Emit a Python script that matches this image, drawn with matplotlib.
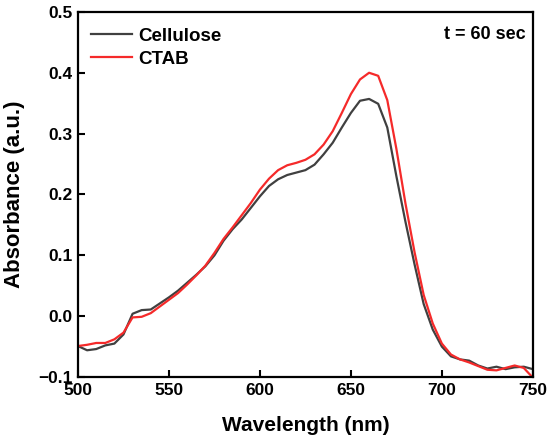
import matplotlib
matplotlib.use("Agg")
import matplotlib.pyplot as plt

wavelength = list(range(500, 755, 5))

cellulose = [-0.049, -0.056, -0.054, -0.048, -0.045, -0.030, 0.004, 0.010, 0.011, 0.021,
             0.031, 0.042, 0.055, 0.068, 0.082, 0.100, 0.124, 0.143, 0.159, 0.178,
             0.197, 0.214, 0.225, 0.232, 0.236, 0.240, 0.249, 0.266, 0.285, 0.310,
             0.334, 0.354, 0.357, 0.349, 0.310, 0.230, 0.155, 0.085, 0.020, -0.022,
             -0.050, -0.066, -0.071, -0.073, -0.081, -0.086, -0.083, -0.087, -0.084, -0.083,
             -0.087]

ctab = [-0.049, -0.047, -0.044, -0.044, -0.038, -0.027, -0.002, -0.001, 0.005, 0.016,
        0.027, 0.038, 0.052, 0.067, 0.083, 0.104, 0.127, 0.146, 0.166, 0.186,
        0.208, 0.226, 0.240, 0.248, 0.252, 0.257, 0.266, 0.282, 0.304, 0.334,
        0.365, 0.389, 0.400, 0.395, 0.355, 0.275, 0.185, 0.105, 0.035, -0.012,
        -0.045, -0.063, -0.071, -0.076, -0.082, -0.088, -0.089, -0.085, -0.081, -0.085,
        -0.101]

xticks = [500, 550, 600, 650, 700, 750]
yticks = [-0.1, 0.0, 0.1, 0.2, 0.3, 0.4, 0.5]

plt.rcParams['font.family'] = ['Liberation Sans', 'DejaVu Sans']
plt.rcParams['font.weight'] = 'bold'

fig = plt.figure(figsize=(5.5, 4.41), dpi=100)
ax = fig.add_axes([0.1418, 0.145, 0.827, 0.828])

ax.plot(wavelength, cellulose, color='#404040', lw=1.6, label='Cellulose')
ax.plot(wavelength, ctab, color='#f52a2a', lw=1.6, label='CTAB')

ax.set_xlim(500, 750)
ax.set_ylim(-0.1, 0.5)
ax.set_xticks(xticks)
ax.set_yticks(yticks)
ax.set_xticklabels([str(v) for v in xticks])
ax.set_yticklabels([f"{v:.1f}".replace('-', '\u2212') for v in yticks])
ax.tick_params(direction='in', length=5, width=1.5, labelsize=12.5, pad=4)
for lab in ax.get_xticklabels() + ax.get_yticklabels():
    lab.set_fontweight('bold')
for s in ax.spines.values():
    s.set_linewidth(1.6)

ax.set_xlabel('Wavelength (nm)', fontsize=15, fontweight='bold', labelpad=13)
ax.set_ylabel('Absorbance (a.u.)', fontsize=16, fontweight='bold')
ax.yaxis.set_label_coords(-0.1165, 0.5)

leg = ax.legend(loc='upper left', bbox_to_anchor=(-0.006, 1.0), frameon=False,
                fontsize=13.5, handlelength=2.2, handletextpad=0.3,
                borderaxespad=0.45, labelspacing=0.3)
for t in leg.get_texts():
    t.set_fontweight('bold')

ax.text(0.985, 0.962, 't = 60 sec', transform=ax.transAxes, ha='right', va='top',
        fontsize=13, fontweight='bold')

fig.savefig('out.png', dpi=100)
